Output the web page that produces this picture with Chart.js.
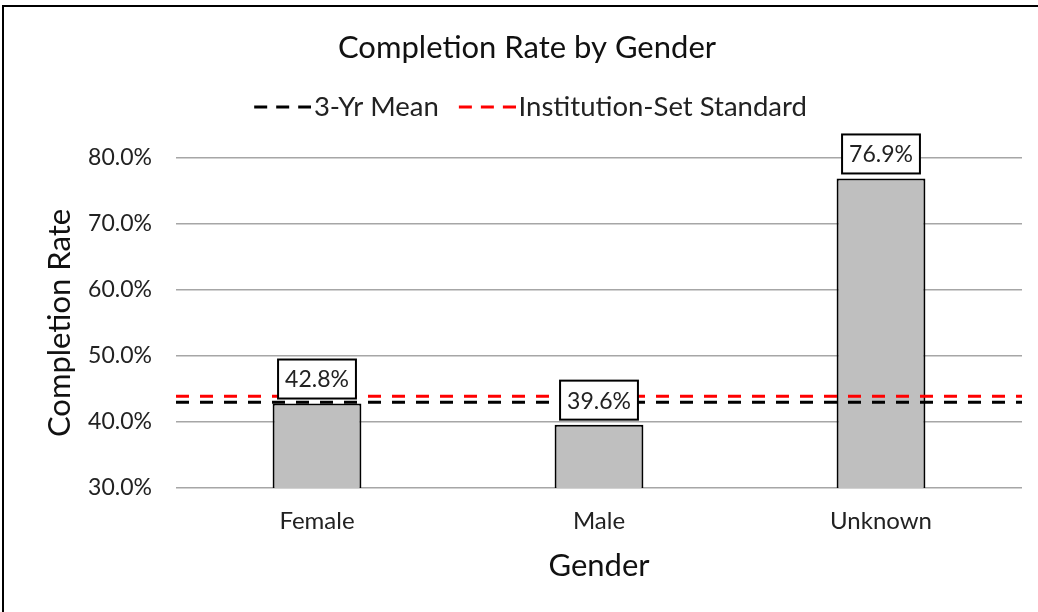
<!DOCTYPE html>
<html>
<head>
<meta charset="utf-8">
<title>Completion Rate by Gender</title>
<script src="https://cdn.jsdelivr.net/npm/chart.js@4.4.1/dist/chart.umd.min.js"></script>
<style>
  html, body { margin: 0; padding: 0; background: #fff; }
  #wrap { position: relative; width: 1038px; height: 612px; }
  #frame {
    position: absolute; left: 2px; top: 5px; right: 0; bottom: 0;
    border-top: 2px solid #000; border-left: 2px solid #000;
    pointer-events: none;
  }
</style>
</head>
<body>
<div id="wrap">
  <canvas id="chart" width="1038" height="612"></canvas>
  <div id="frame"></div>
</div>
<script>
// データ
const genders = ['Female', 'Male', 'Unknown'];
const completionRates = [42.8, 39.6, 76.9];
const threeYearMean = 43.0;
const institutionStandard = 43.9;
const yMin = 30;
const yMax = 80;
const yStep = 10;

Chart.defaults.font.family = 'Lato';
Chart.defaults.color = '#222';

// 凡例用の破線画像（右寄せで描く）
function makeDash(color) {
  const c = document.createElement('canvas');
  c.width = 75;
  c.height = 6;
  const g = c.getContext('2d');
  g.strokeStyle = color;
  g.lineWidth = 3;
  g.setLineDash([13, 9]);
  g.beginPath();
  g.moveTo(18, 3);
  g.lineTo(75, 3);
  g.stroke();
  return c;
}

// 棒の上のラベル（白い箱）
const barLabels = {
  id: 'barLabels',
  afterDatasetsDraw(chart) {
    const meta = chart.getDatasetMeta(2);
    const ctx = chart.ctx;
    ctx.save();
    ctx.font = '23px Lato';
    ctx.textAlign = 'center';
    ctx.textBaseline = 'middle';
    meta.data.forEach((bar, i) => {
      const text = completionRates[i].toFixed(1) + '%';
      const w = ctx.measureText(text).width + 14;
      const h = 39;
      const bottom = bar.y - 5;
      ctx.fillStyle = '#fff';
      ctx.fillRect(bar.x - w / 2, bottom - h, w, h);
      ctx.lineWidth = 2;
      ctx.strokeStyle = '#000';
      ctx.strokeRect(bar.x - w / 2, bottom - h, w, h);
      ctx.fillStyle = '#222';
      ctx.fillText(text, bar.x, bottom - h / 2 + 1);
    });
    ctx.restore();
  }
};

const ctx = document.getElementById('chart').getContext('2d');
new Chart(ctx, {
  type: 'bar',
  data: {
    labels: genders,
    datasets: [
      {
        type: 'line',
        label: '3-Yr Mean',
        xAxisID: 'x2',
        data: [{ x: 0, y: threeYearMean }, { x: 1, y: threeYearMean }],
        borderColor: '#000',
        borderWidth: 3,
        borderDash: [13, 11],
        pointRadius: 0,
        pointStyle: makeDash('#000'),
        fill: false
      },
      {
        type: 'line',
        label: 'Institution-Set Standard',
        xAxisID: 'x2',
        data: [{ x: 0, y: institutionStandard }, { x: 1, y: institutionStandard }],
        borderColor: '#ff0000',
        borderWidth: 3,
        borderDash: [13, 11],
        pointRadius: 0,
        pointStyle: makeDash('#ff0000'),
        fill: false
      },
      {
        label: 'Completion Rate',
        data: completionRates,
        backgroundColor: '#BFBFBF',
        borderColor: '#000',
        borderWidth: 2,
        grouped: false,
        categoryPercentage: 1,
        barPercentage: 0.315
      }
    ]
  },
  options: {
    responsive: false,
    animation: false,
    layout: { padding: { left: 32, right: 16, top: 0, bottom: 0 } },
    plugins: {
      title: {
        display: true,
        text: 'Completion Rate by Gender',
        color: '#111',
        font: { size: 31, weight: 'normal', lineHeight: 1 },
        padding: { top: 32.5, bottom: 16.75 }
      },
      legend: {
        display: true,
        position: 'top',
        labels: {
          usePointStyle: true,
          pointStyleWidth: 53,
          padding: 13,
          font: { size: 27.5 },
          color: '#222',
          filter: item => item.datasetIndex !== 2
        }
      },
      // 凡例とグラフの間の余白
      subtitle: {
        display: true,
        text: '',
        weight: 500,
        font: { size: 1, lineHeight: 1 },
        padding: { top: 26.25, bottom: 0 }
      },
      tooltip: { enabled: false }
    },
    scales: {
      x: {
        grid: { display: false, drawTicks: false },
        border: { display: false },
        ticks: { padding: 19, font: { size: 24 }, color: '#222' },
        title: {
          display: true,
          text: 'Gender',
          color: '#111',
          font: { size: 31 },
          padding: { top: 0, bottom: 27.4 }
        },
        afterFit(scale) { scale.height = 124; }
      },
      x2: {
        type: 'linear',
        display: false,
        offset: false,
        min: 0,
        max: 1
      },
      y: {
        min: yMin,
        max: yMax,
        grid: { color: '#A6A6A6', lineWidth: 1.5, drawTicks: false },
        border: { display: false },
        ticks: {
          stepSize: yStep,
          padding: 24,
          font: { size: 23 },
          color: '#222',
          callback: v => v.toFixed(1) + '%'
        },
        title: {
          display: true,
          text: 'Completion Rate',
          color: '#111',
          font: { size: 31 },
          padding: { top: 9.4, bottom: 0 }
        },
        afterFit(scale) { scale.width = 144; }
      }
    }
  },
  plugins: [barLabels]
});
</script>
</body>
</html>
